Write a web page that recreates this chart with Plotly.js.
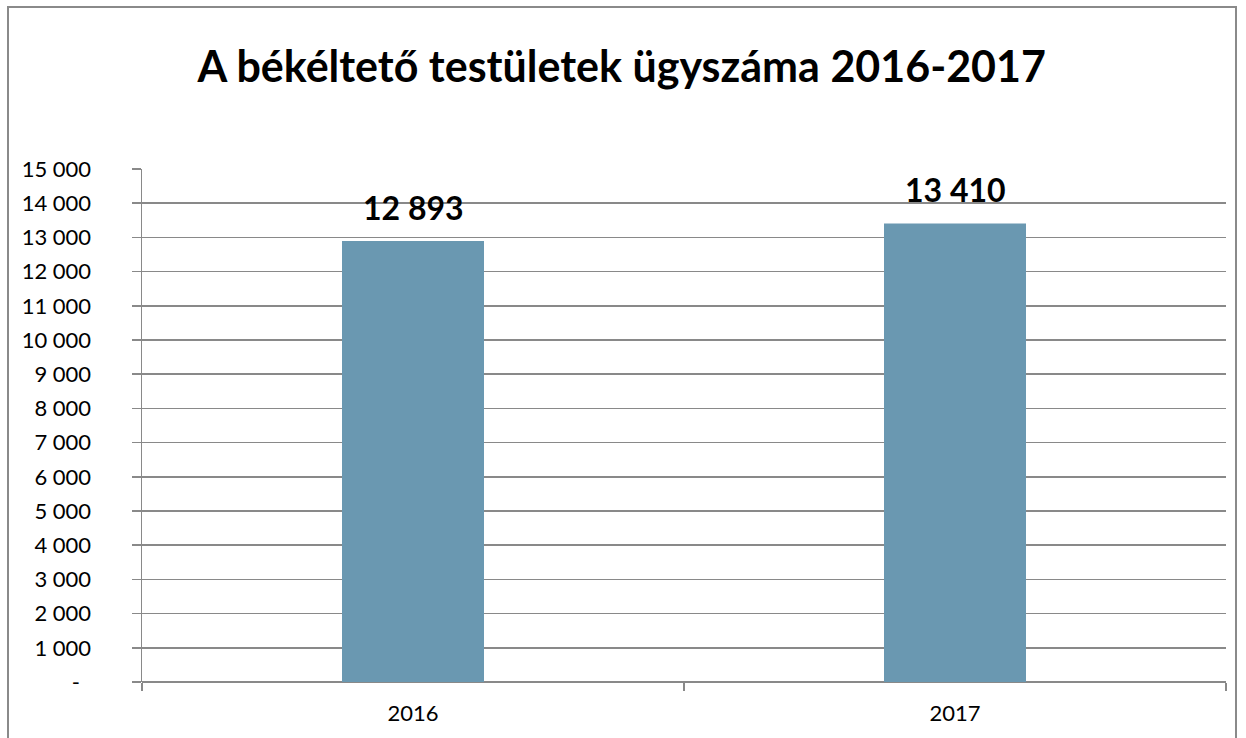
<!DOCTYPE html>
<html>
<head>
<meta charset="utf-8">
<script src="https://cdn.plot.ly/plotly-3.0.1.min.js"></script>
<style>
  html, body { margin: 0; padding: 0; background: #fff; }
  #chart { width: 1246px; height: 738px; }
  #frame { position: absolute; left: 7px; top: 6px; width: 1230px; height: 760px;
           border: 2px solid #8a8a8a; pointer-events: none; box-sizing: border-box; }
</style>
</head>
<body>
<div id="chart"></div>
<div id="frame"></div>
<script>
const categories = ["2016", "2017"];
const values = [12893, 13410];
const valueLabels = ["12 893", "13 410"];
const yTickVals = [0, 1000, 2000, 3000, 4000, 5000, 6000, 7000, 8000, 9000, 10000, 11000, 12000, 13000, 14000, 15000];
const yTickText = ["-\u00a0\u00a0", "1 000", "2 000", "3 000", "4 000", "5 000", "6 000", "7 000", "8 000", "9 000", "10 000", "11 000", "12 000", "13 000", "14 000", "15 000"];
const chartTitle = "A békéltető testületek ügyszáma 2016-2017";

const fontFam = "Lato, 'Open Sans', sans-serif";
const gray = "#898989";

const trace = {
  type: "bar",
  x: categories,
  y: values,
  width: 0.262,
  marker: { color: "#6a98b1", line: { width: 0 } },
  hoverinfo: "skip"
};

const annotations = categories.map((c, i) => ({
  x: i, y: values[i], xref: "x", yref: "y",
  text: "<b>" + valueLabels[i] + "</b>",
  showarrow: false, yanchor: "bottom", yshift: 12,
  font: { family: fontFam, size: 32, color: "#000" }
}));

const layout = {
  width: 1246, height: 738,
  margin: { l: 142, r: 20, t: 169, b: 56 },
  paper_bgcolor: "#fff", plot_bgcolor: "#fff",
  showlegend: false,
  title: {
    text: "<b>" + chartTitle + "</b>",
    x: 0.499, xanchor: "center", y: 0.909, yanchor: "middle",
    font: { family: fontFam, size: 43, color: "#000" }
  },
  xaxis: {
    type: "category",
    range: [-0.5, 1.5],
    autorange: false,
    tickson: "boundaries",
    ticks: "outside", ticklen: 8, tickwidth: 1.5, tickcolor: gray,
    showgrid: false, zeroline: false, showline: false,
    tickfont: { family: fontFam, size: 22, color: "#000" },
    tickangle: 0,
    ticklabelstandoff: 16
  },
  yaxis: {
    range: [0, 15000],
    autorange: false,
    tickvals: yTickVals, ticktext: yTickText,
    ticks: "outside", ticklen: 9, tickwidth: 1.5, tickcolor: gray,
    showgrid: true, gridcolor: gray, gridwidth: 1.5,
    zeroline: true, zerolinecolor: gray, zerolinewidth: 1.5,
    showline: true, linecolor: gray, linewidth: 1.5,
    tickfont: { family: fontFam, size: 22, color: "#000" },
    ticklabelstandoff: 36
  },
  annotations: annotations
};

Plotly.newPlot("chart", [trace], layout, { displayModeBar: false, staticPlot: true });
</script>
</body>
</html>
